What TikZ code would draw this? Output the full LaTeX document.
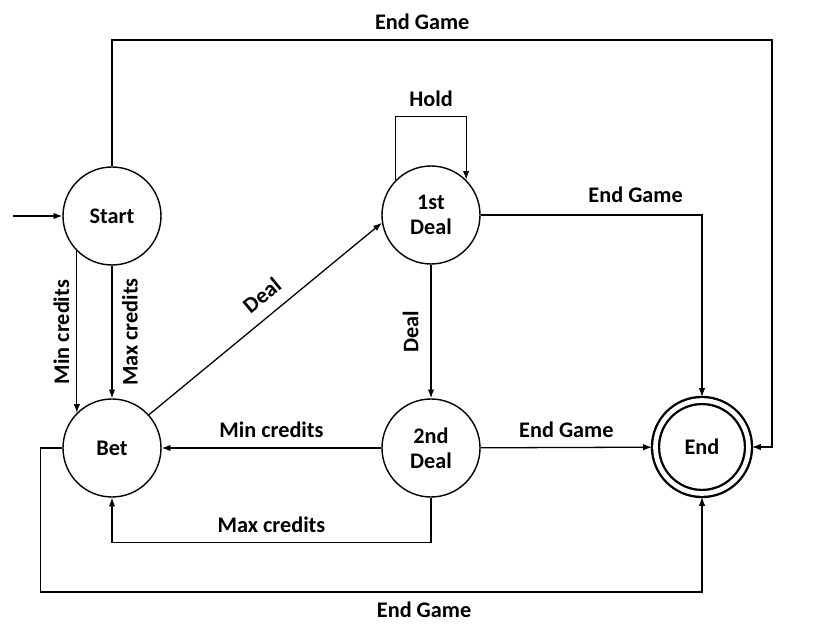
\documentclass[tikz,border=0pt]{standalone}
\usepackage{fontspec}
\setmainfont{Carlito}
\usetikzlibrary{arrows, arrows.meta}

\begin{document}
\begin{tikzpicture}[x=0.03cm, y=-0.03cm, >={Latex[length=7.5pt, width=5.5pt]}, font=\fontsize{19}{21}\selectfont\bfseries]
	\tikzstyle{state}=[circle, draw=black, line width=1.2pt, minimum size=2.94cm, inner sep=0pt, align=center]
	\tikzstyle{final}=[circle, draw=black, line width=2pt, double, double distance=4pt, minimum size=2.79cm, inner sep=0pt, outer sep=3pt]
	\tikzstyle{edge}=[->, line width=1.1pt]
	\tikzstyle{lbl}=[inner sep=8pt]

	\useasboundingbox (0,0) rectangle (826,629);

	\node (start) at (112,216) [state] {Start};
	\node (bet) at (112,448) [state] {Bet};
	\node (deal1) at (431,215) [state] {1st\\Deal};
	\node (deal2) at (431,448) [state] {2nd\\Deal};
	\node (end) at (702,447) [final] {End};

	\coordinate (in) at (13,216);
	\coordinate (topl) at (112,40);
	\coordinate (topr) at (772,40);

	\draw[edge] (in) -- (start);

	\draw[edge] (start.south west) -- node[lbl, rotate=90, above, inner sep=6pt] {Min credits} (bet.north west);
	\draw[edge] (start.south) -- node[lbl, rotate=90, below] {Max credits} (bet.north);

	\draw[edge] (start.north) -- (topl) -- node[lbl, pos=0.47, above] {End Game} (topr) |- (end);

	\draw[edge] (deal1.north west) -- ++(0,-63) -| node[lbl, pos=0.25, above] {Hold} (deal1.north east);
	\draw[edge] (deal1) -| node[lbl, pos=0.35, above, inner sep=10pt] {End Game} (end);
	\draw[edge] (deal1) -- node[lbl, rotate=90, above, inner sep=10pt] {Deal} (deal2);

	\draw[edge] (bet.42) -- node[lbl, pos=0.54, sloped, above, inner sep=10pt] {Deal} (deal1.189);

	\draw[edge] (deal2) -- node[lbl, above] {Min credits} (bet);
	\draw[edge] (deal2.south) -- ++(0,45) -| node[lbl, pos=0.25, above] {Max credits} (bet.south);
	\draw[edge] (deal2) -- node[lbl, above] {End Game} (end);

	\draw[edge] (bet.west) -- ++(-22,0) -- ++(0,144) -| node[lbl, pos=0.29, below] {End Game} (end.south);
\end{tikzpicture}
\end{document}
